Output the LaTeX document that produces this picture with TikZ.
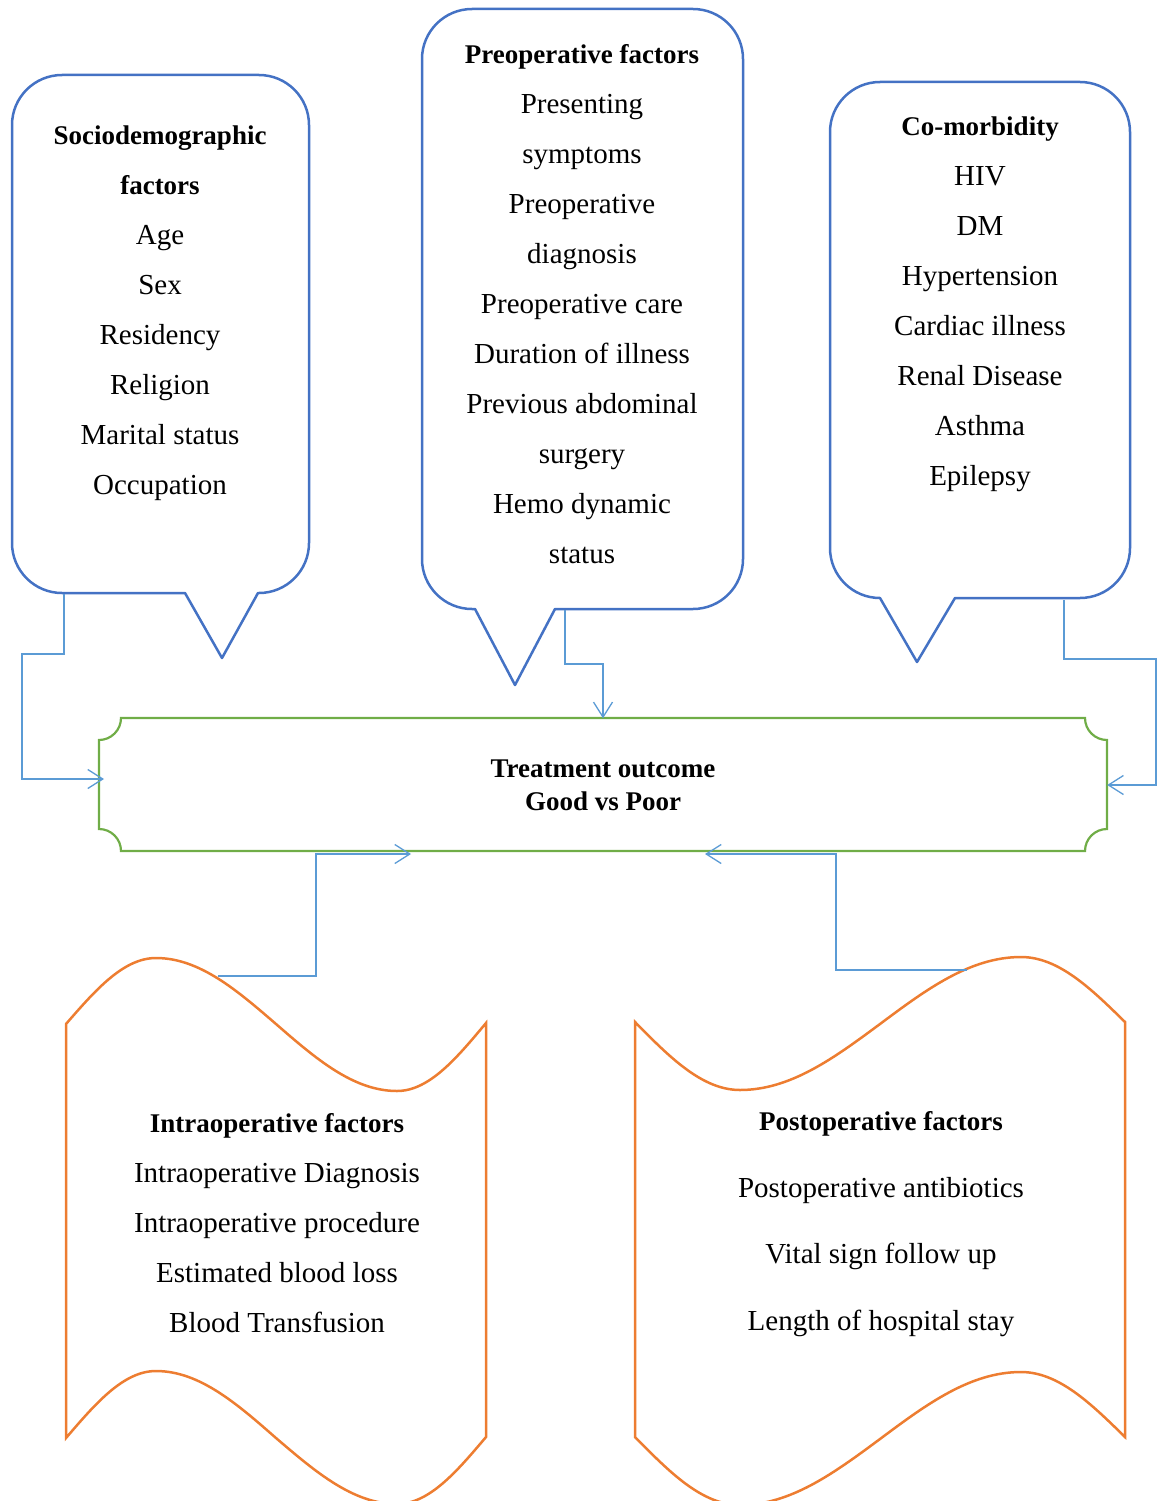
\documentclass[tikz,border=0pt]{standalone}
\usepackage{fontspec}
\setmainfont{Liberation Serif}
\usetikzlibrary{arrows.meta}

\definecolor{calloutblue}{HTML}{4472C4}
\definecolor{linkblue}{HTML}{5B9BD5}
\definecolor{plaquegreen}{HTML}{70AD47}
\definecolor{tapeorange}{HTML}{ED7D31}

\newcommand{\boxtitle}[1]{{\fontsize{27}{50}\selectfont\bfseries #1}}

\begin{document}
\begin{tikzpicture}[x=1pt, y=-1pt,
		callout/.style={calloutblue, line width=2.5pt, line join=round},
		plaque/.style={plaquegreen, line width=2.2pt},
		tape/.style={tapeorange, line width=2.5pt},
		link/.style={linkblue, line width=1.3pt, -{Straight Barb[length=15pt, width=19pt, line width=1.3pt]}},
		txt/.style={align=center, inner sep=0pt, font=\fontsize{29}{50}\selectfont}]
			\useasboundingbox (0,0) rectangle (1157,1501);

			% Sociodemographic callout
			\draw[callout] (185,593) -- (222,658) -- (258,593) -- (259,593)
				arc[start angle=-90, end angle=0, radius=50pt] -- (309,125)
				arc[start angle=0, end angle=90, radius=50pt] -- (62,75)
				arc[start angle=90, end angle=180, radius=50pt] -- (12,543)
				arc[start angle=180, end angle=270, radius=50pt] -- cycle;
			\node[txt] (socio) at (160,313) {\boxtitle{Sociodemographic}\\\boxtitle{factors}\\Age\\Sex\\Residency\\Religion\\Marital status\\Occupation};

			% Preoperative callout
			\draw[callout] (475,609) -- (515,685) -- (555,609) -- (693,609)
				arc[start angle=-90, end angle=0, radius=50pt] -- (743,59)
				arc[start angle=0, end angle=90, radius=50pt] -- (472,9)
				arc[start angle=90, end angle=180, radius=50pt] -- (422,559)
				arc[start angle=180, end angle=270, radius=50pt] -- cycle;
			\node[txt] (preop) at (582,304) {\boxtitle{Preoperative factors}\\Presenting\\symptoms\\Preoperative\\diagnosis\\Preoperative care\\Duration of illness\\Previous abdominal\\surgery\\Hemo dynamic\\status};

			% Co-morbidity callout
			\draw[callout] (880,598) -- (917,662) -- (955,598) -- (1080,598)
				arc[start angle=-90, end angle=0, radius=50pt] -- (1130,132)
				arc[start angle=0, end angle=90, radius=50pt] -- (880,82)
				arc[start angle=90, end angle=180, radius=50pt] -- (830,548)
				arc[start angle=180, end angle=270, radius=50pt] -- cycle;
			\node[txt] (comorb) at (980,304) {\boxtitle{Co-morbidity}\\HIV\\DM\\Hypertension\\Cardiac illness\\Renal Disease\\Asthma\\Epilepsy};

			% Treatment outcome plaque
			\draw[plaque] (121,718) -- (1085,718)
				arc[start angle=180, end angle=270, radius=22pt] -- (1107,829)
				arc[start angle=90, end angle=180, radius=22pt] -- (121,851)
				arc[start angle=0, end angle=90, radius=22pt] -- (99,740)
				arc[start angle=270, end angle=360, radius=22pt] -- cycle;
			\node[txt, font=\fontsize{27}{33}\selectfont\bfseries, minimum width=1008pt, minimum height=133pt] (outcome) at (603,785) {Treatment outcome\\Good vs Poor};

			% Intraoperative tape
			\draw[tape] (66,1024) sin (156,958) cos (276,1024) sin (397,1091) cos (486,1023)
				-- (486,1437) sin (397,1504) cos (276,1438) sin (156,1371) cos (66,1438) -- cycle;
			\node[txt] (intraop) at (277,1223) {\boxtitle{Intraoperative factors}\\Intraoperative Diagnosis\\Intraoperative procedure\\Estimated blood loss\\Blood Transfusion};

			% Postoperative tape
			\draw[tape] (635,1022) sin (740,1090) cos (880,1024) sin (1021,957) cos (1125,1022)
				-- (1125,1437) sin (1021,1372) cos (880,1439) sin (740,1505) cos (635,1437) -- cycle;
			\node[txt, font=\fontsize{29}{66.7}\selectfont] (postop) at (881,1224) {{\fontsize{27}{66.7}\selectfont\bfseries Postoperative factors}\\Postoperative antibiotics\\Vital sign follow up\\Length of hospital stay};

			% Connector ends
			\coordinate (socio-tail) at (64,594);
			\coordinate (preop-tail) at (565,610);
			\coordinate (comorb-tail) at (1064,600);
			\coordinate (intraop-tail) at (218,976);
			\coordinate (postop-tail) at (967,970);
			\coordinate (outcome-w) at (104,779);
			\coordinate (outcome-sl) at (411,854);
			\coordinate (outcome-sr) at (705,854);

			% Connectors
			\draw[link] (socio-tail) |- (22,654) |- (outcome-w);
			\draw[link] (preop-tail) |- (603,664) -- (outcome.north);
			\draw[link] (comorb-tail) |- (1156,659) |- (outcome.east);
			\draw[link] (intraop-tail) -| (316,854) -- (outcome-sl);
			\draw[link] (postop-tail) -| (836,854) -- (outcome-sr);
		\end{tikzpicture}
\end{document}
